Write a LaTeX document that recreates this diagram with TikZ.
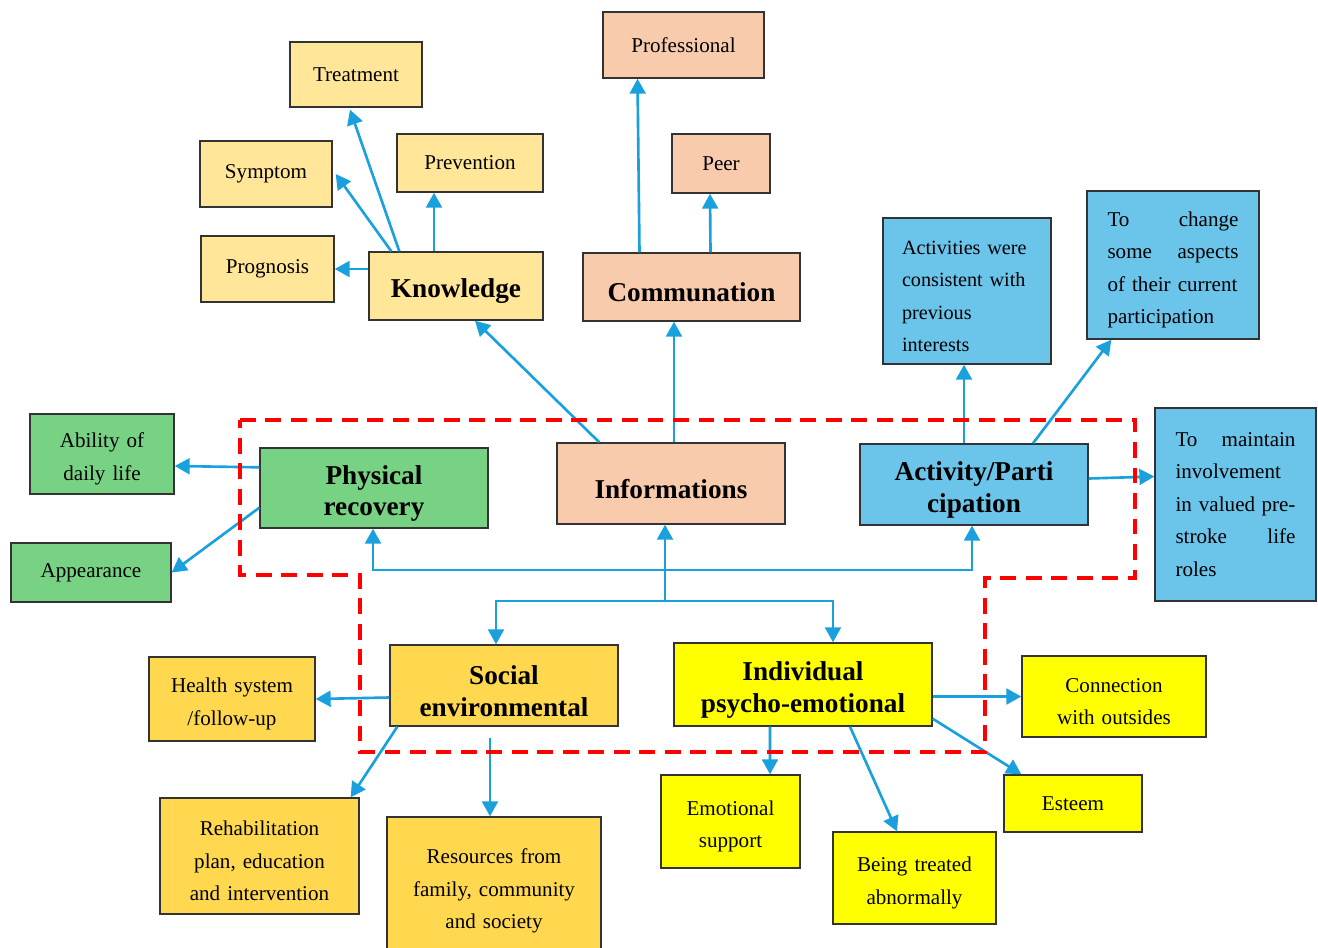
\documentclass[tikz,border=0pt]{standalone}
\usepackage{fontspec}
\setmainfont{Liberation Serif}
\usetikzlibrary{arrows.meta,calc}
\definecolor{knowY}{RGB}{255,230,153}
\definecolor{salmon}{RGB}{248,203,173}
\definecolor{skyB}{RGB}{107,196,234}
\definecolor{grn}{RGB}{120,210,132}
\definecolor{gold}{RGB}{255,216,80}
\definecolor{yel}{RGB}{255,255,0}
\definecolor{lineblue}{RGB}{26,160,220}
\begin{document}
\begin{tikzpicture}[x=0.02cm,y=-0.02cm,
  box/.style={draw=black!80,line width=0.8pt,inner sep=2pt,align=center,font=\fontsize{12}{18.5}\selectfont},
  drop/.style={text width=#1,execute at begin node={\rule{0pt}{14pt}}},
  big/.style={box,font=\fontsize{15.5}{18}\selectfont\bfseries,execute at begin node={\rule{0pt}{17pt}}},
  arr/.style={draw=lineblue,line width=1.5pt,-{Triangle[width=9pt,length=8.5pt]}},
  redline/.style={draw=red,line width=2.2pt,dash pattern=on 9pt off 5.5pt}]
\useasboundingbox (0,0) rectangle (1318,947);
% knowledge group
\node[box,fill=knowY,minimum width=2.64cm,minimum height=1.3cm] (treat) at (356,74.5) {Treatment};
\node[box,fill=knowY,minimum width=2.64cm,minimum height=1.32cm] (symp) at (266,174) {Symptom};
\node[box,fill=knowY,minimum width=2.92cm,minimum height=1.16cm] (prev) at (470,163) {Prevention};
\node[box,fill=knowY,minimum width=2.66cm,minimum height=1.32cm] (progn) at (267.5,269) {Prognosis};
\node[big,fill=knowY,minimum width=3.48cm,minimum height=1.36cm] (know) at (456,286) {Knowledge};
% communication group
\node[box,fill=salmon,minimum width=3.22cm,minimum height=1.32cm] (prof) at (683.5,45) {Professional};
\node[box,fill=salmon,minimum width=1.96cm,minimum height=1.18cm] (peer) at (721,163.5) {Peer};
\node[big,fill=salmon,minimum width=4.34cm,minimum height=1.36cm] (comm) at (691.5,287) {Communation};
% activity group
\node[box,drop=2.6cm,fill=skyB,minimum width=3.36cm,minimum height=2.92cm,align=left,font=\fontsize{11.5}{18.5}\selectfont] (cons) at (967,291) {Activities were\\consistent with\\previous\\interests};
\node[box,drop=2.62cm,fill=skyB,minimum width=3.44cm,minimum height=2.96cm,align=left] (change) at (1173,265) {To\hfill change\\some\hfill aspects\\of their current\\participation};
\node[box,fill=skyB,minimum width=3.22cm,minimum height=3.86cm,text width=2.4cm,align=left] (maint) at (1235.5,504.5) {To\hfill maintain\\involvement\\in valued\hfill pre-\\stroke\hfill life\\roles};
% middle row
\node[box,drop=2.6cm,fill=grn,minimum width=2.88cm,minimum height=1.6cm] (abil) at (102,454) {Ability of\\daily life};
\node[box,fill=grn,minimum width=3.2cm,minimum height=1.18cm] (appear) at (91,572.5) {Appearance};
\node[big,text width=4.3cm,fill=grn,minimum width=4.56cm,minimum height=1.6cm] (phys) at (374,488) {Physical\\recovery};
\node[big,fill=salmon,minimum width=4.56cm,minimum height=1.62cm] (info) at (671,483.5) {Informations};
\node[big,text width=4.3cm,fill=skyB,minimum width=4.56cm,minimum height=1.62cm] (act) at (974,484.5) {Activity/Parti\\cipation};
% social group
\node[big,text width=4.3cm,fill=gold,minimum width=4.56cm,minimum height=1.62cm] (social) at (504,685.5) {Social\\environmental};
\node[box,drop=3.1cm,fill=gold,minimum width=3.32cm,minimum height=1.68cm] (health) at (232,699) {Health system\\/follow-up};
\node[box,drop=3.7cm,fill=gold,minimum width=3.98cm,minimum height=2.32cm] (rehab) at (259.5,856) {Rehabilitation\\plan, education\\and intervention};
\node[box,drop=4cm,fill=gold,minimum width=4.28cm,minimum height=2.76cm] (resour) at (494,886) {Resources from\\family, community\\and society};
% individual group
\node[big,text width=4.9cm,fill=yel,minimum width=5.16cm,minimum height=1.66cm] (indiv) at (803,684.5) {Individual\\psycho-emotional};
\node[box,drop=3.4cm,fill=yel,minimum width=3.68cm,minimum height=1.62cm] (conn) at (1114,696.5) {Connection\\with outsides};
\node[box,drop=2.5cm,fill=yel,minimum width=2.78cm,minimum height=1.86cm] (emot) at (730.5,821.5) {Emotional\\support};
\node[box,drop=3cm,fill=yel,minimum width=3.26cm,minimum height=1.84cm] (being) at (914.5,878) {Being treated\\abnormally};
\node[box,fill=yel,minimum width=2.76cm,minimum height=1.14cm] (esteem) at (1073,803.5) {Esteem};
% connectors
\draw[arr] (know.west |- progn.east) -- (progn.east);
\draw[arr] ($(know.north west)+(23,0)$) -- ($(symp.east)+(3,0)$);
\draw[arr] ($(know.north west)+(31,0)$) -- ($(treat.south)+(-6,2)$);
\draw[arr] ($(know.north)+(-22,0)$) -- ($(prev.south)+(-36,0)$);
\draw[arr] ($(info.north west)+(43,0)$) -- ($(know.south)+(19,0)$);
\draw[arr] ($(info.north)+(3,0)$) -- ($(comm.south)+(-17.5,0)$);
\draw[arr] ($(comm.north)+(-52,0)$) -- ($(prof.south)+(-46,0)$);
\draw[arr] ($(comm.north)+(19,0)$) -- ($(peer.south)+(-11,0)$);
\draw[arr] ($(act.north)+(-10,0)$) -- ($(cons.south)+(-3,0)$);
\draw[arr] ($(act.north)+(59,0)$) -- ($(change.south west)+(25,0)$);
\draw[arr] ($(act.east)+(0,-6)$) -- ($(maint.west)+(0,-28)$);
\draw[arr] ($(phys.north west)+(0,20)$) -- ($(abil.east)+(0,12)$);
\draw[arr] ($(phys.south west)+(0,-21)$) -- (appear.east);
\coordinate (hub) at (665,601);
\coordinate (bar) at (665,570);
\draw[arr] (hub) -- (info.south -| hub);
\draw[arr] (bar) -| ($(phys.south)+(-1,0)$);
\draw[arr] (bar) -| ($(act.south)+(-2,0)$);
\draw[arr] (hub) -| ($(social.north)+(-8,0)$);
\draw[arr] (hub) -| ($(indiv.north)+(30,0)$);
\draw[arr] ($(social.west)+(0,12)$) -- (health.east);
\draw[arr] ($(social.south west)+(8,0)$) -- ($(rehab.north east)+(-9,0)$);
\draw[arr] ($(social.south)+(-14,11)$) -- ($(resour.north)+(-4,0)$);
\draw[arr] (indiv.east |- conn.west) -- (conn.west);
\draw[arr] ($(indiv.south east)+(0,-8)$) -- ($(esteem.north west)+(18,0)$);
\draw[arr] ($(indiv.south)+(-33,0)$) -- ($(emot.north)+(39.5,0)$);
\draw[arr] ($(indiv.south)+(47,0)$) -- ($(being.north)+(-17.5,0)$);
% dashed outline
\draw[redline] (240,420) -- (1135,420) -- (1135,578) -- (985,578) -- (985,752) -- (360,752) -- (360,575) -- (240,575) -- cycle;
\end{tikzpicture}
\end{document}
